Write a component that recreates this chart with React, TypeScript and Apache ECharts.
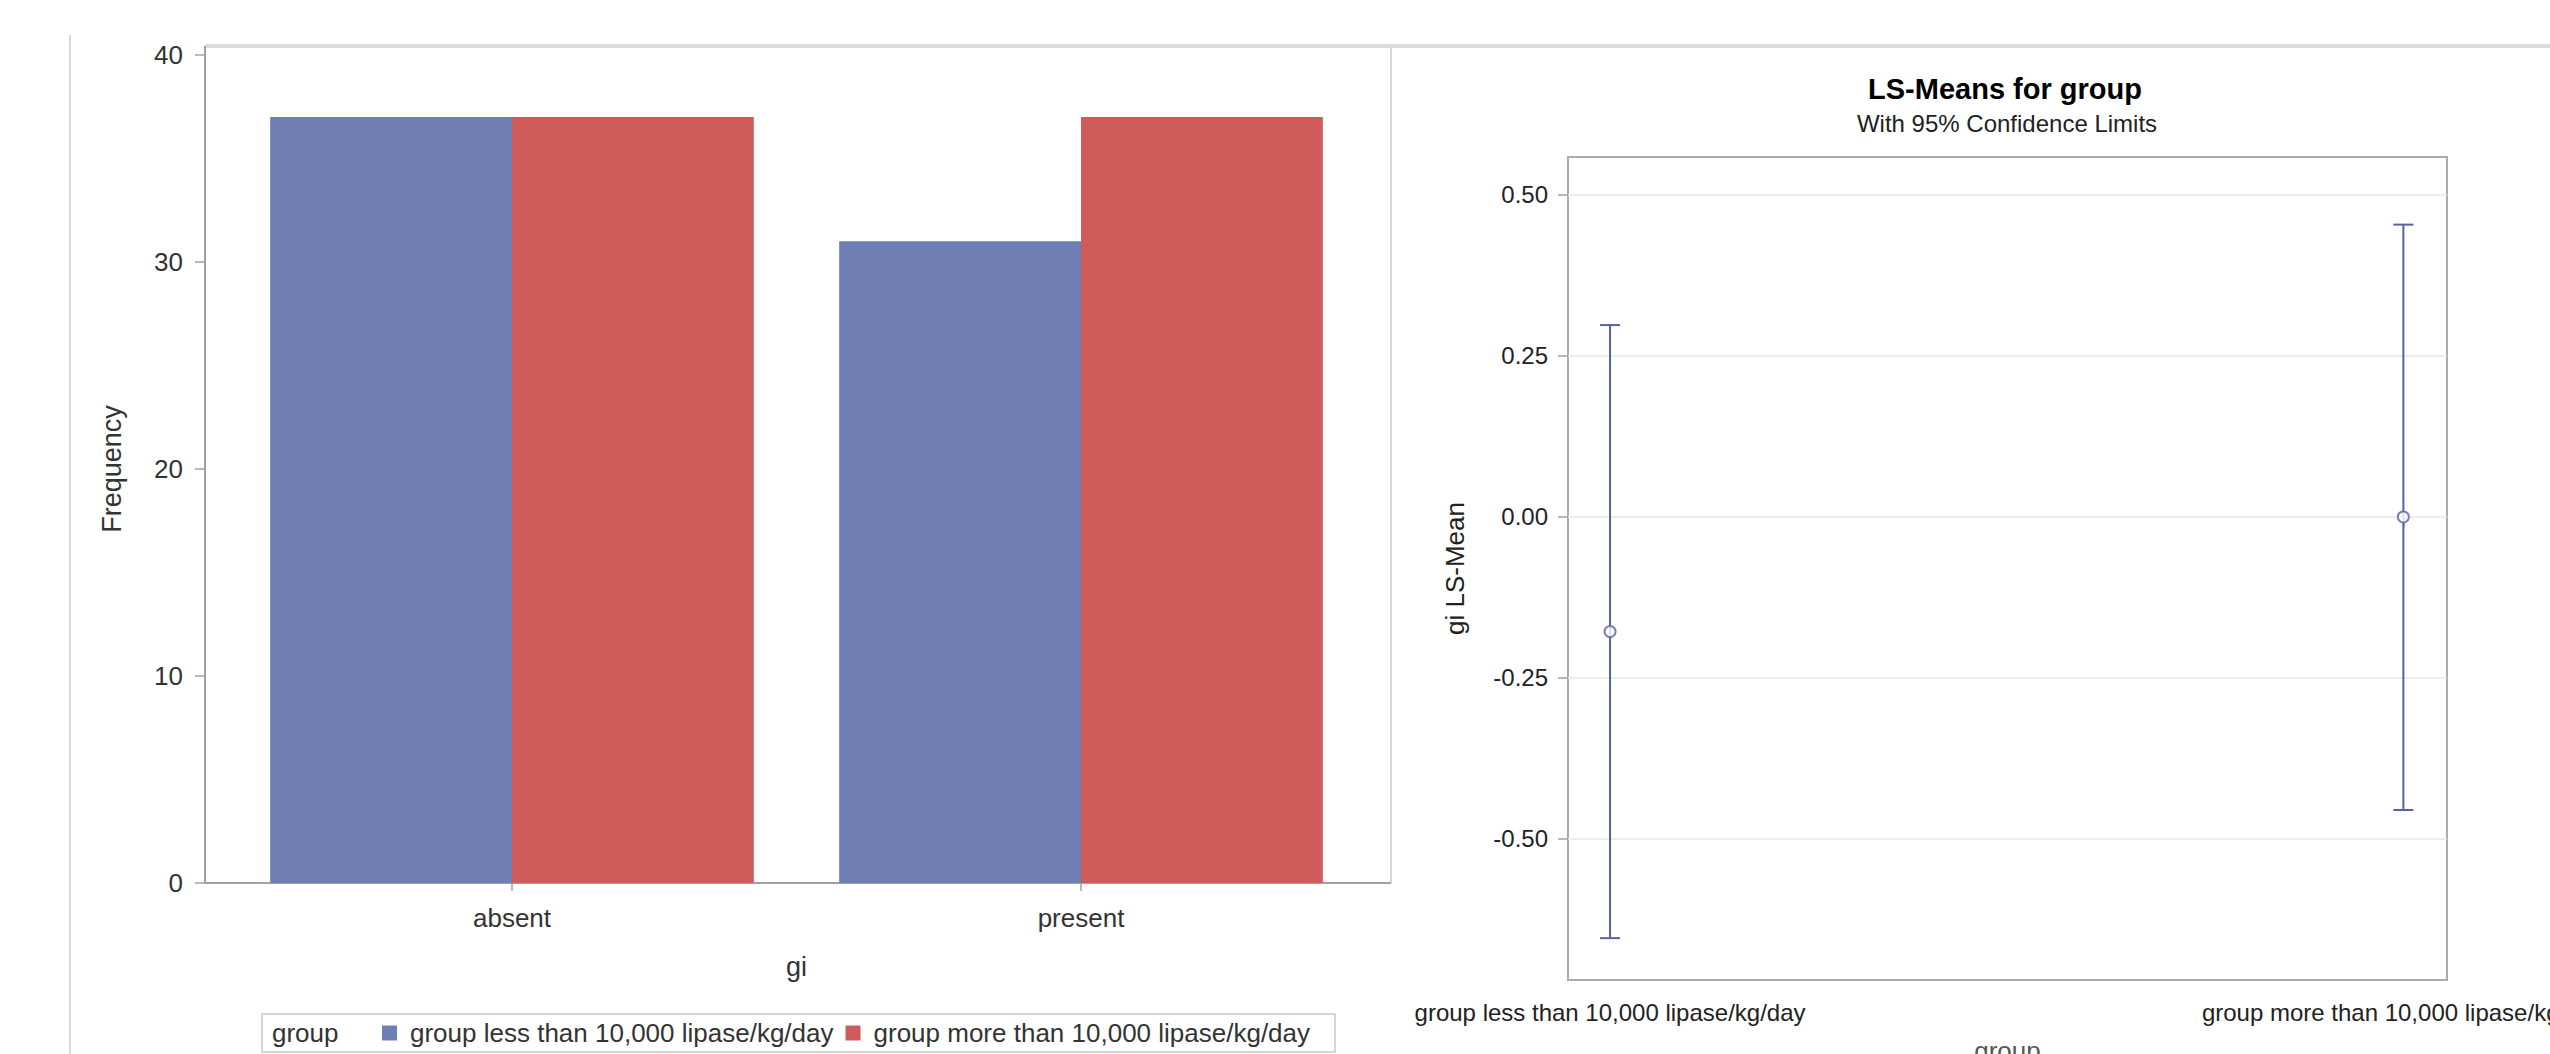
import React, { useEffect, useRef } from "react";
import * as echarts from "echarts";

// ---- Left panel: frequency bar chart ----
const giCategories = ["absent", "present"];
const groupNames = ["group less than 10,000 lipase/kg/day", "group more than 10,000 lipase/kg/day"];
const freqLess = [37, 31];
const freqMore = [37, 37];

// ---- Right panel: LS-means with 95% CL ----
const lsGroups = ["group less than 10,000 lipase/kg/day", "group more than 10,000 lipase/kg/day"];
const lsPos = [1, 2];
const lsMean = [-0.178, 0.0];
const lsLower = [-0.654, -0.455];
const lsUpper = [0.298, 0.454];
const lsTicks = [-0.5, -0.25, 0, 0.25, 0.5];

const FONT = "'Liberation Sans', Arial, Helvetica, sans-serif";
const BLUE = "#6F7EB3";
const RED = "#D05B5B";
const EB = "#5661A8";

export default function App() {
  const ref = useRef<HTMLDivElement | null>(null);

  useEffect(() => {
    if (!ref.current) return;
    const chart = echarts.init(ref.current, undefined, { renderer: "svg" });

    const option: any = {
      animation: false,
      backgroundColor: "#ffffff",
      textStyle: { fontFamily: FONT },
      grid: [
        { left: 227.5, top: 55, width: 1138, height: 828, outerBoundsMode: "none", containLabel: false },
        {
          left: 1568, top: 157, width: 879, height: 823, show: true,
          borderColor: "#ABABAB", borderWidth: 2, backgroundColor: "transparent",
          outerBoundsMode: "none", containLabel: false,
        },
      ],
      legend: {
        data: groupNames,
        left: 382,
        top: 1020,
        padding: 0,
        itemWidth: 15,
        itemHeight: 15,
        itemGap: 12,
        icon: "rect",
        selectedMode: false,
        textStyle: { fontSize: 26, color: "#333", fontFamily: FONT, padding: [0, 0, 0, 8] },
      },
      xAxis: [
        {
          type: "category",
          gridIndex: 0,
          data: giCategories,
          axisLine: { show: false },
          axisTick: { show: true, alignWithLabel: true, length: 8, lineStyle: { color: "#A0A0A0", width: 1.5 } },
          axisLabel: { fontSize: 26, color: "#333", margin: 22, fontFamily: FONT },
          name: "gi",
          nameLocation: "middle",
          nameGap: 70,
          nameTextStyle: { fontSize: 27, color: "#333", fontFamily: FONT },
        },
        {
          type: "value",
          gridIndex: 1,
          min: 0.947,
          max: 2.055,
          axisLine: { show: false },
          splitLine: { show: false },
          axisTick: { show: true, customValues: lsPos, length: 10, lineStyle: { color: "#A0A0A0", width: 1.5 } },
          axisLabel: {
            customValues: lsPos,
            fontSize: 24,
            color: "#222",
            margin: 20,
            fontFamily: FONT,
            formatter: (v: number) => lsGroups[Math.round(v) - 1] ?? "",
          },
          name: "group",
          nameLocation: "middle",
          nameGap: 58,
          nameTextStyle: { fontSize: 26, color: "#555", fontFamily: FONT },
        },
      ],
      yAxis: [
        {
          type: "value",
          gridIndex: 0,
          min: 0,
          max: 40,
          interval: 10,
          offset: 22.5,
          axisLine: { show: false },
          axisTick: { show: true, length: 10, lineStyle: { color: "#A0A0A0", width: 1.5 } },
          axisLabel: { fontSize: 26, color: "#333", margin: 22, fontFamily: FONT },
          splitLine: { show: false },
          name: "Frequency",
          nameLocation: "middle",
          nameRotate: 90,
          nameGap: 80,
          nameTextStyle: { fontSize: 27, color: "#333", fontFamily: FONT },
        },
        {
          type: "value",
          gridIndex: 1,
          min: -0.719,
          max: 0.559,
          axisLine: { show: false },
          axisTick: { show: true, customValues: lsTicks, length: 10, lineStyle: { color: "#A0A0A0", width: 1.5 } },
          axisLabel: {
            customValues: lsTicks,
            fontSize: 24,
            color: "#222",
            margin: 20,
            fontFamily: FONT,
            formatter: (v: number) => (Math.abs(v) < 1e-9 ? 0 : v).toFixed(2),
          },
          splitLine: { show: true, lineStyle: { color: "#E6E6E6", width: 1.5 } },
          name: "gi LS-Mean",
          nameLocation: "middle",
          nameRotate: 90,
          nameGap: 100,
          nameTextStyle: { fontSize: 26, color: "#222", fontFamily: FONT },
        },
      ],
      series: [
        {
          name: groupNames[0],
          type: "bar",
          xAxisIndex: 0,
          yAxisIndex: 0,
          data: freqLess,
          barGap: "0%",
          barCategoryGap: "15%",
          itemStyle: { color: BLUE },
        },
        {
          name: groupNames[1],
          type: "bar",
          xAxisIndex: 0,
          yAxisIndex: 0,
          data: freqMore,
          barGap: "0%",
          barCategoryGap: "15%",
          itemStyle: { color: RED },
        },
        {
          name: "95% CL",
          type: "custom",
          xAxisIndex: 1,
          yAxisIndex: 1,
          data: lsPos.map((p, i) => [p, lsLower[i], lsUpper[i]]),
          renderItem: (params: any, api: any) => {
            const x = api.value(0);
            const lo = api.coord([x, api.value(1)]);
            const hi = api.coord([x, api.value(2)]);
            const hw = 10;
            const style = { stroke: EB, lineWidth: 2 };
            return {
              type: "group",
              children: [
                { type: "line", shape: { x1: lo[0], y1: lo[1], x2: hi[0], y2: hi[1] }, style },
                { type: "line", shape: { x1: hi[0] - hw, y1: hi[1], x2: hi[0] + hw, y2: hi[1] }, style },
                { type: "line", shape: { x1: lo[0] - hw, y1: lo[1], x2: lo[0] + hw, y2: lo[1] }, style },
              ],
            };
          },
          z: 3,
        },
        {
          name: "LS-Mean",
          type: "scatter",
          xAxisIndex: 1,
          yAxisIndex: 1,
          data: lsPos.map((p, i) => [p, lsMean[i]]),
          symbol: "circle",
          symbolSize: 11,
          itemStyle: { color: "#ffffff", borderColor: EB, borderWidth: 2 },
          z: 5,
        },
      ],
      graphic: [
        { type: "line", shape: { x1: 70, y1: 35, x2: 70, y2: 1054 }, style: { stroke: "#D9D9D9", lineWidth: 2 }, silent: true },
        { type: "line", shape: { x1: 205, y1: 46, x2: 2550, y2: 46 }, style: { stroke: "#DCDCDC", lineWidth: 4 }, silent: true },
        { type: "line", shape: { x1: 1391, y1: 46, x2: 1391, y2: 883 }, style: { stroke: "#D6D6D6", lineWidth: 2 }, silent: true },
        { type: "line", shape: { x1: 205, y1: 46, x2: 205, y2: 884 }, style: { stroke: "#A0A0A0", lineWidth: 2 }, silent: true },
        { type: "line", shape: { x1: 204, y1: 883, x2: 1391, y2: 883 }, style: { stroke: "#A0A0A0", lineWidth: 2 }, silent: true },
        {
          type: "rect",
          shape: { x: 262, y: 1014, width: 1073, height: 38 },
          style: { fill: "none", stroke: "#C8C8C8", lineWidth: 1.5 },
          silent: true,
        },
        {
          type: "text",
          x: 272,
          y: 1033,
          style: { text: "group", fontSize: 26, fill: "#333", fontFamily: FONT, verticalAlign: "middle", align: "left" },
          silent: true,
        },
        {
          type: "text",
          x: 2005,
          y: 89,
          style: {
            text: "LS-Means for group", fontSize: 29, fontWeight: "bold", fill: "#000",
            fontFamily: FONT, align: "center", verticalAlign: "middle",
          },
          silent: true,
        },
        {
          type: "text",
          x: 2007,
          y: 123,
          style: {
            text: "With 95% Confidence Limits", fontSize: 24, fill: "#222",
            fontFamily: FONT, align: "center", verticalAlign: "middle",
          },
          silent: true,
        },
      ],
    };

    chart.setOption(option);
    return () => chart.dispose();
  }, []);

  return (
    <div
      ref={ref}
      style={{ position: "absolute", left: 0, top: 0, width: 2550, height: 1054, background: "#fff" }}
    />
  );
}
